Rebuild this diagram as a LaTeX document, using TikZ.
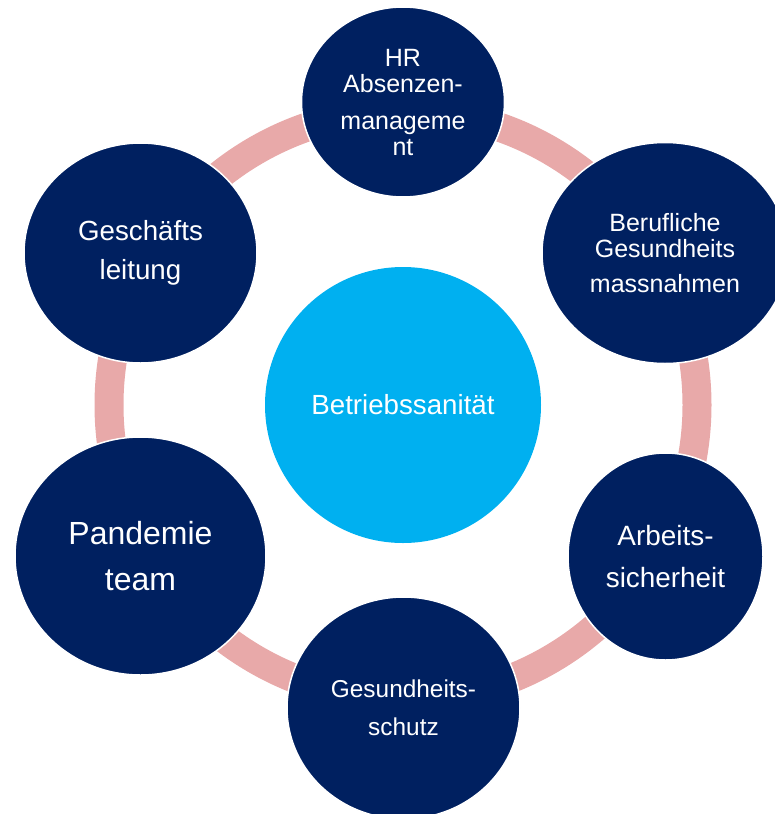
\documentclass[tikz,border=0pt]{standalone}
\usepackage{fontspec}
\setmainfont{Liberation Sans}
\usetikzlibrary{shapes.geometric}

\definecolor{navy}{HTML}{002060}
\definecolor{skyblue}{HTML}{00B0F0}
\definecolor{rosering}{HTML}{E8A9A9}

\begin{document}
\begin{tikzpicture}[
    x=1pt, y=-1pt,
    hub/.style={circle, fill=skyblue, text=white, minimum size=276pt, inner sep=0pt},
    unit/.style={ellipse, fill=navy, draw=white, line width=1.5pt, text=white, align=center, inner sep=0pt},
    ring/.style={draw=rosering, line width=29pt}
]
\useasboundingbox (0,0) rectangle (775,814);

% Ring behind the circles
\coordinate (mid) at (403,405);
\draw[ring] (mid) circle [radius=294pt];

% Centre
\node[hub, font=\fontsize{27.7}{30}\selectfont] (hub) at (mid) {Betriebssanität};

% Outer circles
\node[unit, minimum width=203pt, minimum height=190pt, font=\fontsize{25}{26}\selectfont] (hr) at (403,102)
    {HR\\Absenzen-\\[11pt]manageme\\nt};
\node[unit, minimum width=246pt, minimum height=221pt, font=\fontsize{25}{26.7}\selectfont] (beruf) at (665,253)
    {Berufliche\\Gesundheits\\[8pt]massnahmen};
\node[unit, minimum width=195pt, minimum height=207pt, font=\fontsize{27.9}{42}\selectfont] (arbeit) at (665.5,556.5)
    {Arbeits-\\sicherheit};
\node[unit, minimum width=233pt, minimum height=222pt, font=\fontsize{24.4}{38.5}\selectfont] (schutz) at (403.5,708)
    {Gesundheits-\\schutz};
\node[unit, minimum width=251pt, minimum height=238pt, font=\fontsize{32}{46}\selectfont] (pandemie) at (140.5,556)
    {Pandemie\\team};
\node[unit, minimum width=233pt, minimum height=220pt, font=\fontsize{27.7}{39}\selectfont] (leitung) at (140.5,253)
    {Geschäfts\\leitung};

\end{tikzpicture}
\end{document}
